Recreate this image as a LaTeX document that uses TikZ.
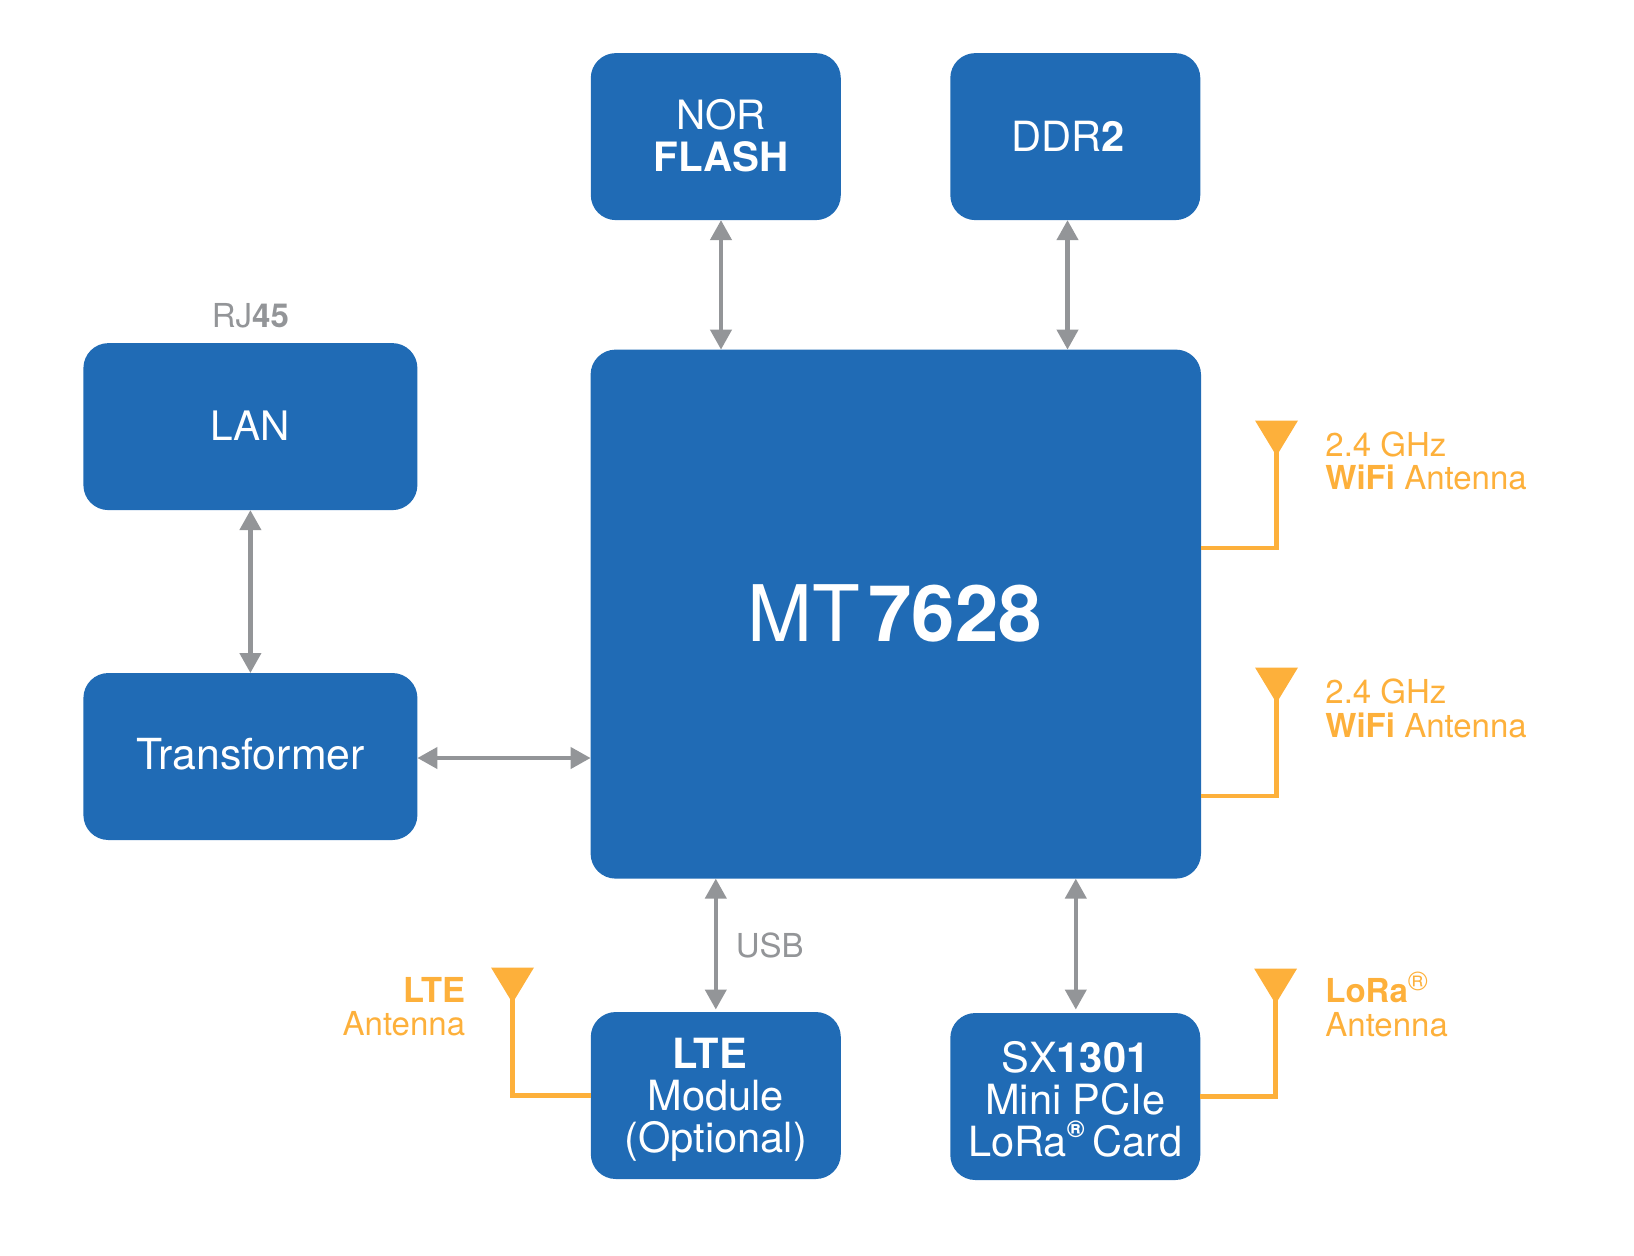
\documentclass[tikz,border=0pt]{standalone}
\usepackage{fontspec}
\setmainfont{TeX Gyre Heros}
\usetikzlibrary{arrows.meta,calc}
\definecolor{boxblue}{HTML}{206BB5}
\definecolor{antorange}{HTML}{FDB03B}
\definecolor{lingray}{HTML}{939598}
\newcommand{\regmark}{\raisebox{0.44em}{\scalebox{0.58}{\textbf{®}}}}
\newcommand{\regmarkbig}{\raisebox{0.36em}{\scalebox{0.82}{®}}}
\tikzset{
  blockbox/.style={fill=boxblue,draw=none,rounded corners=12.5pt,inner sep=0pt,outer sep=0pt,
    text=white,align=center,font=\fontsize{20.8}{20.9}\selectfont},
  smallbox/.style={blockbox,minimum width=125pt,minimum height=83.5pt},
  widebox/.style={blockbox,minimum width=167pt,minimum height=83.5pt},
  link/.style={draw=lingray,line width=2.1pt,{Triangle[width=10.5pt,length=10pt]}-{Triangle[width=10.5pt,length=10pt]}},
  feed/.style={draw=antorange,line width=2.3pt,line join=miter},
  ant/.style={fill=antorange,draw=none},
  orangelabel/.style={text=antorange,inner sep=0pt,font=\fontsize{16.5}{16.6}\selectfont},
  graylabel/.style={text=lingray,inner sep=0pt,font=\fontsize{16.5}{16.6}\selectfont},
}
\begin{document}
\begin{tikzpicture}[x=0.5pt,y=-0.5pt]
\useasboundingbox (0,0) rectangle (1634,1255);
% blocks
\node[smallbox,font=\fontsize{20.2}{20.9}\selectfont,text depth=1pt] (nor) at (715.8,136.6) {\hspace*{5.2pt}NOR\\\hspace*{5.2pt}\textbf{FLASH}};
\node[smallbox] (ddr) at (1075.3,136.6) {DDR\textbf{2}\hspace*{6.8pt}};
\node[widebox,font=\fontsize{20.3}{20.9}\selectfont,text depth=1pt] (lan) at (250.4,426.6) {LAN};
\node[widebox,font=\fontsize{21.4}{21}\selectfont,text depth=3.1pt] (tr) at (250.4,756.5) {Transformer};
\node[blockbox,minimum width=305.2pt,minimum height=264.5pt,font=\fontsize{39}{40}\selectfont,text depth=1pt] (mt) at (895.8,614.1) {MT\hspace{0.107em}\textbf{7628}\hspace*{1pt}};
\node[smallbox] (lte) at (715.8,1095.5) {\rule{0pt}{19.6pt}\textbf{LTE}\hspace*{6.2pt}\\Module\\(Optional)};
\node[smallbox] (sx) at (1075.3,1096.5) {\rule{0pt}{18.2pt}SX\textbf{1301}\\Mini PCIe\\LoRa\regmark\hspace{0.18em}Card};
% connector guides
\coordinate (xnor) at (721,0);
\coordinate (xddr) at (1067.5,0);
\coordinate (xlte) at (715.8,0);
\coordinate (xsx) at (1075.8,0);
\coordinate (ytr) at (0,758);
\coordinate (gaplte) at (0,1009.5);
\coordinate (gapsx) at (0,1009.5);
% links
\draw[link] (xnor |- nor.south) -- (xnor |- mt.north);
\draw[link] (xddr |- ddr.south) -- (xddr |- mt.north);
\draw[link] (lan.south) -- (tr.north);
\draw[link] (tr.east |- ytr) -- (mt.west |- ytr);
\draw[link] (xlte |- mt.south) -- (xlte |- gaplte);
\draw[link] (xsx |- mt.south) -- (xsx |- gapsx);
% antennas
\coordinate (a1) at (1276.5,456);
\coordinate (a2) at (1276.5,703);
\coordinate (a3) at (512.5,1003);
\coordinate (a4) at (1275.6,1004);
\coordinate (f1) at (0,548);
\coordinate (f2) at (0,796);
\coordinate (f3) at (0,1095.6);
\coordinate (f4) at (0,1096.6);
\foreach \p in {a1,a2,a3,a4}
  \fill[ant] (\p) -- ++(-21.5,-35.5) -- ++(43,0) -- cycle;
\draw[feed] ($(a1)+(0,-6)$) -- (a1 |- f1) -- (mt.east |- f1);
\draw[feed] ($(a2)+(0,-6)$) -- (a2 |- f2) -- (mt.east |- f2);
\draw[feed] ($(a3)+(0,-6)$) -- (a3 |- f3) -- (lte.west |- f3);
\draw[feed] ($(a4)+(0,-6)$) -- (a4 |- f4) -- (sx.east |- f4);
% labels
\node[graylabel] (rj) at (250.4,316) {RJ\textbf{45}};
\node[graylabel,anchor=west] (usb) at (735.5,945) {USB};
\node[orangelabel,anchor=west,align=left] (l1) at (1325,461) {2.4 GHz\\\textbf{WiFi} Antenna};
\node[orangelabel,anchor=west,align=left] (l2) at (1325,708.5) {2.4 GHz\\\textbf{WiFi} Antenna};
\node[orangelabel,anchor=east,align=right] (l3) at (465.5,1007) {{\fontsize{17.2}{16.6}\selectfont\textbf{LTE}}\\Antenna};
\node[orangelabel,anchor=west,align=left] (l4) at (1325,1004.5) {\textbf{LoRa}\regmarkbig\\Antenna};
\end{tikzpicture}
\end{document}
